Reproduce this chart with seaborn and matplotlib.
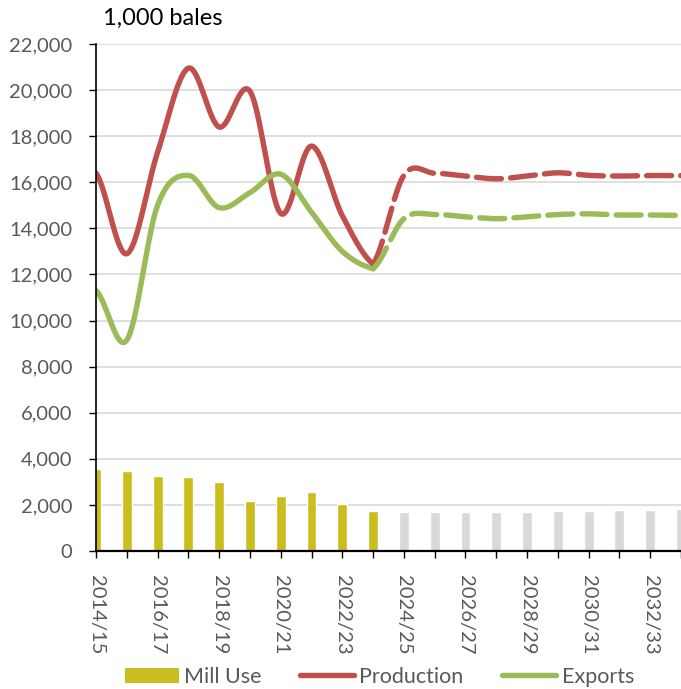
import numpy as np
import pandas as pd
import matplotlib
matplotlib.use("Agg")
import matplotlib.pyplot as plt
import seaborn as sns
from matplotlib.patches import Patch
from matplotlib.lines import Line2D

# Data (1,000 bales)
years = ["2014/15", "2015/16", "2016/17", "2017/18", "2018/19", "2019/20", "2020/21",
         "2021/22", "2022/23", "2023/24", "2024/25", "2025/26", "2026/27", "2027/28",
         "2028/29", "2029/30", "2030/31", "2031/32", "2032/33", "2033/34"]
mill_use = [3570, 3460, 3250, 3220, 2980, 2160, 2400, 2550, 2050, 1750,
            1700, 1700, 1700, 1700, 1700, 1750, 1750, 1800, 1800, 1820]
periods = ["Historical"] * 10 + ["Projection"] * 10
production_hist = [16400, 12900, 17300, 20950, 18400, 19950, 14650, 17570, 14550, 12450]
exports_hist = [11300, 9150, 15000, 16300, 14900, 15550, 16350, 14700, 13000, 12250]
production_proj = [12450, 16300, 16390, 16270, 16150, 16270, 16410, 16300, 16270, 16290, 16290]
exports_proj = [12250, 14420, 14600, 14500, 14420, 14500, 14600, 14630, 14580, 14580, 14560]

mill_color = "#CBBD1D"
proj_bar_color = "#D9D9D9"
prod_color = "#C0504D"
exp_color = "#9BBB59"
text_grey = "#595959"


def smooth(values, start, steps=40):
    # Excel-style smoothed line (Catmull-Rom / cubic Hermite)
    p = np.asarray(values, dtype=float)
    n = len(p)
    m = np.zeros(n)
    m[1:-1] = (p[2:] - p[:-2]) / 2
    m[0] = (p[1] - p[0]) / 2
    m[-1] = (p[-1] - p[-2]) / 2
    xs, ys = [], []
    for i in range(n - 1):
        t = np.linspace(0, 1, steps, endpoint=(i == n - 2))
        h00 = 2 * t**3 - 3 * t**2 + 1
        h10 = t**3 - 2 * t**2 + t
        h01 = -2 * t**3 + 3 * t**2
        h11 = t**3 - t**2
        ys.append(h00 * p[i] + h10 * m[i] + h01 * p[i + 1] + h11 * m[i + 1])
        xs.append(start + i + t)
    return np.concatenate(xs), np.concatenate(ys)


sns.set_theme(style="white")
plt.rcParams["font.family"] = ["Lato", "DejaVu Sans"]

df = pd.DataFrame({"year": years, "mill_use": mill_use, "period": periods})

fig = plt.figure(figsize=(6.81, 6.89), dpi=100, facecolor="white")
ax = fig.add_axes([96 / 681, 138 / 689, 585 / 681, 507 / 689])

sns.barplot(data=df, x="year", y="mill_use", hue="period",
            palette={"Historical": mill_color, "Projection": proj_bar_color},
            dodge=False, width=0.32, saturation=1, legend=False, ax=ax)

lw = 3.9
for vals, start, color, style in [
    (production_hist, 0, prod_color, "-"),
    (exports_hist, 0, exp_color, "-"),
    (production_proj, 9, prod_color, (0, (4.6, 1.7))),
    (exports_proj, 9, exp_color, (0, (4.6, 1.7))),
]:
    xs, ys = smooth(vals, start)
    sns.lineplot(x=xs, y=ys, color=color, linewidth=lw, estimator=None, sort=False,
                 linestyle=style, solid_capstyle="round", dash_capstyle="round", ax=ax)

ax.set_xlim(0, 19)
ax.set_ylim(0, 22000)
ax.set_yticks(np.arange(0, 22001, 2000))
ax.set_yticklabels([f"{v:,}" for v in range(0, 22001, 2000)])
ax.set_xticks(range(len(years)))
ax.set_xticklabels([y if i % 2 == 0 else "" for i, y in enumerate(years)], rotation=-90)
ax.set_xlabel("")
ax.set_ylabel("")

ax.set_axisbelow(True)
ax.yaxis.grid(True, color="#D9D9D9", linewidth=1.2)
ax.xaxis.grid(False)
for side in ["top", "right"]:
    ax.spines[side].set_visible(False)
ax.spines["left"].set_color("black")
ax.spines["left"].set_linewidth(1.2)
ax.spines["bottom"].set_color("black")
ax.spines["bottom"].set_linewidth(1.6)
ax.tick_params(axis="y", direction="out", length=5, width=1, color="black",
               labelcolor=text_grey, labelsize=14.5, pad=12, left=True)
ax.tick_params(axis="x", direction="out", length=5, width=1, color="black",
               labelcolor=text_grey, labelsize=14.5, pad=12, bottom=True)

fig.text(0.151, 0.973, "1,000 bales", fontsize=17, color="black", va="center")

handles = [
    Patch(facecolor=mill_color, edgecolor="none"),
    Line2D([0], [0], color=prod_color, lw=lw, solid_capstyle="round"),
    Line2D([0], [0], color=exp_color, lw=lw, solid_capstyle="round"),
]
fig.legend(handles, ["Mill Use", "Production", "Exports"], loc="center",
           bbox_to_anchor=(0.557, 0.0174), ncol=3, frameon=False, fontsize=15.5,
           labelcolor=text_grey, handlelength=2.5, handletextpad=0.25,
           columnspacing=1.8)

fig.savefig("out.png", dpi=100, facecolor="white")
